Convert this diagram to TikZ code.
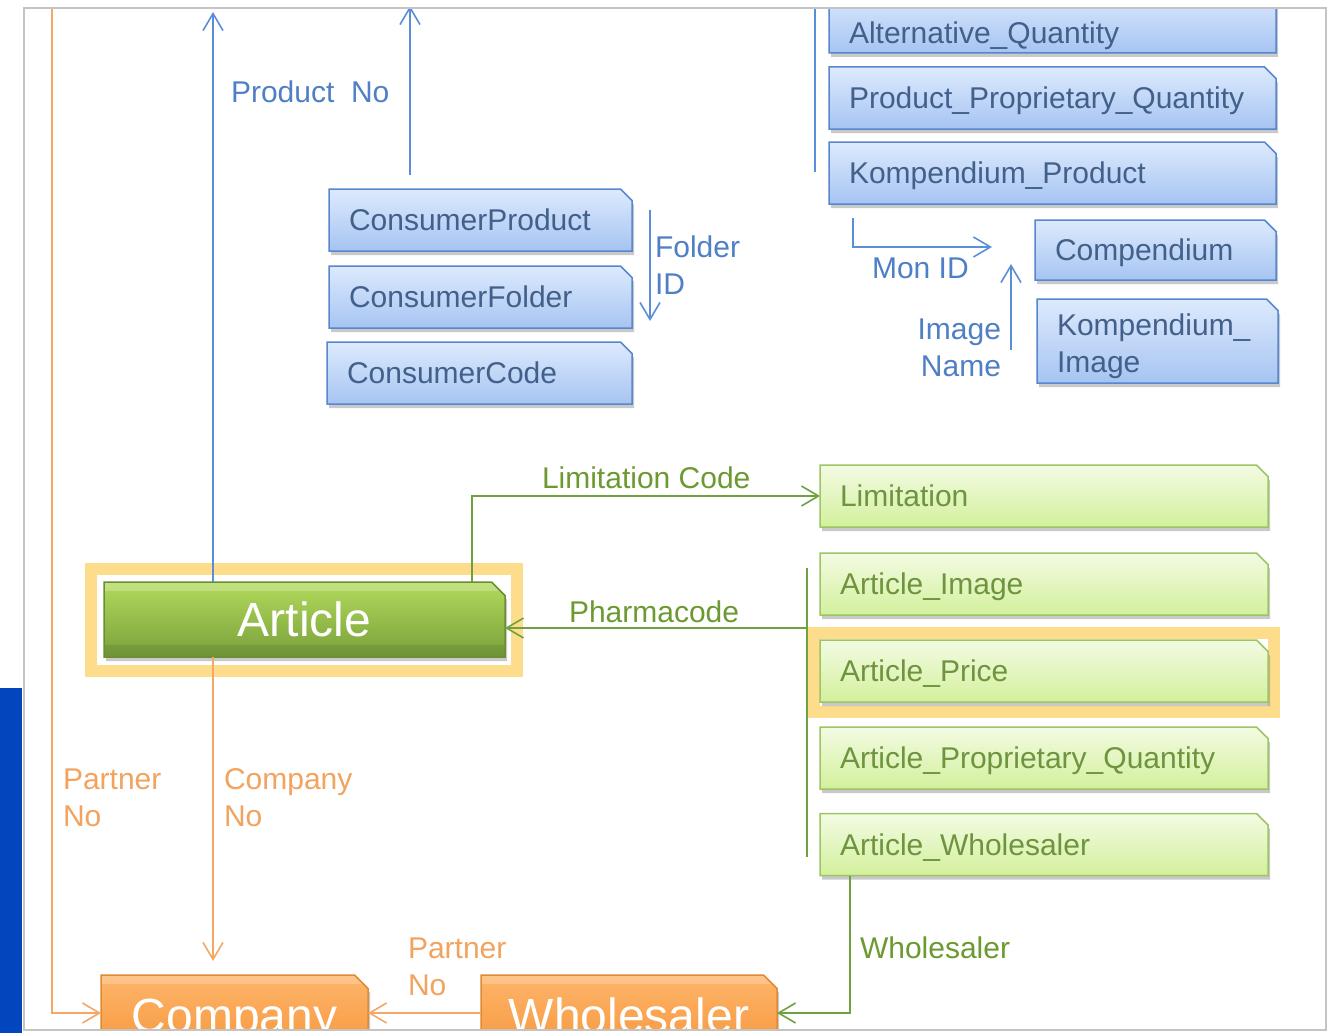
\documentclass[tikz,border=0pt]{standalone}
\usepackage{fontspec}
\setmainfont{Liberation Sans}
\usetikzlibrary{shapes.misc,shadows,arrows.meta,calc}
\definecolor{bTop}{HTML}{DDEAFD}
\definecolor{bBot}{HTML}{A6C4F2}
\definecolor{bLine}{HTML}{5886CF}
\definecolor{bText}{HTML}{42608A}
\definecolor{gTop}{HTML}{F3FBE3}
\definecolor{gBot}{HTML}{D3F09C}
\definecolor{gLine}{HTML}{9CC565}
\definecolor{gText}{HTML}{6F9440}
\definecolor{artTop}{HTML}{B3DA5C}
\definecolor{artMid}{HTML}{8DB845}
\definecolor{artBot}{HTML}{78A03A}
\definecolor{artLine}{HTML}{6B8E33}
\definecolor{oTop}{HTML}{FDB56A}
\definecolor{oBot}{HTML}{F7963C}
\definecolor{oLine}{HTML}{E08A34}
\definecolor{hiYel}{HTML}{FDDC8C}
\definecolor{cBlue}{HTML}{5B8ED8}
\definecolor{cGreen}{HTML}{6FA23E}
\definecolor{cOrange}{HTML}{F4A766}
\definecolor{lBlue}{HTML}{4F7FC4}
\definecolor{lGreen}{HTML}{6C9A30}
\definecolor{lOrange}{HTML}{F2A35E}
\definecolor{frameGray}{HTML}{C4C4C4}
\definecolor{barBlue}{HTML}{0345BC}
\begin{document}
\begin{tikzpicture}[x=1pt,y=-1pt,
  every node/.style={inner sep=0pt,outer sep=0pt},
  boxbase/.style={chamfered rectangle,chamfered rectangle corners=north east,
    chamfered rectangle xsep=8pt,line width=1.5pt,inner xsep=12pt,inner ysep=0pt,
    align=left,text height=21.5pt,text depth=0pt,
    drop shadow={shadow xshift=2pt,shadow yshift=-4pt,opacity=0.35,fill=black!60},
    font=\fontsize{30}{37}\selectfont},
  bluebox/.style={boxbase,draw=bLine,top color=bTop,bottom color=bBot,text=bText},
  greenbox/.style={boxbase,draw=gLine,top color=gTop,bottom color=gBot,text=gText},
  bigbox/.style={chamfered rectangle,chamfered rectangle corners=north east,
    chamfered rectangle xsep=10pt,line width=1.5pt,inner sep=0pt,
    text height=34pt,text depth=0pt,
    drop shadow={shadow xshift=2pt,shadow yshift=-4pt,opacity=0.35,fill=black!60},
    path picture={\fill[white,opacity=0.22] (path picture bounding box.north west) rectangle ([yshift=-9pt]path picture bounding box.north east);
      \fill[black,opacity=0.08] ([yshift=12pt]path picture bounding box.south west) rectangle (path picture bounding box.south east);},
    font=\fontsize{48}{56}\selectfont,text=white},
  artbox/.style={bigbox,draw=artLine,top color=artTop,middle color=artMid,bottom color=artBot},
  orbox/.style={bigbox,draw=oLine,top color=oTop,bottom color=oBot},
  tip/.style={-{Straight Barb[length=17pt,width=20pt]}},
  bline/.style={cBlue,line width=1.6pt},
  gline/.style={cGreen,line width=1.6pt},
  oline/.style={cOrange,line width=1.6pt},
  bconn/.style={bline,tip},
  gconn/.style={gline,tip},
  oconn/.style={oline,tip},
  lab/.style={font=\fontsize{30}{37}\selectfont,align=left,anchor=west},
  blab/.style={lab,text=lBlue},
  glab/.style={lab,text=lGreen},
  olab/.style={lab,text=lOrange},
  hilite/.style={hiYel,line width=12pt}
]
\useasboundingbox (0,0) rectangle (1335,1033);
\fill[white] (0,0) rectangle (1335,1033);
\fill[barBlue] (0,688) rectangle (22,1033);
\begin{scope}
\clip (24,8) rectangle (1326,1030);
% highlights
\draw[hilite] (91,569) rectangle (517,671);
\draw[hilite] (814,633) rectangle (1274,712);
% blue boxes
\node[bluebox,minimum width=303pt,minimum height=62pt,text width=263pt] (cprod) at (480.5,220) {ConsumerProduct};
\node[bluebox,minimum width=303pt,minimum height=62pt,text width=263pt] (cfold) at (480.5,297) {ConsumerFolder};
\node[bluebox,minimum width=305pt,minimum height=62pt,text width=265pt] (ccode) at (479.5,373) {ConsumerCode};
\node[bluebox,minimum width=447pt,minimum height=62pt,text width=407pt,text height=43pt] (altq) at (1052.5,22) {Alternative\_Quantity};
\node[bluebox,minimum width=447pt,minimum height=62pt,text width=407pt] (ppq) at (1052.5,98) {Product\_Proprietary\_Quantity};
\node[bluebox,minimum width=447pt,minimum height=62pt,text width=407pt] (kprod) at (1052.5,173) {Kompendium\_Product};
\node[bluebox,minimum width=241pt,minimum height=60pt,text width=201pt] (comp) at (1155.5,250) {Compendium};
\node[bluebox,minimum width=241pt,minimum height=84pt,text width=201pt,text height=21pt,text depth=32pt] (kimg) at (1157.5,341) {Kompendium\_\\Image};
% green boxes
\node[greenbox,minimum width=448pt,minimum height=62pt,text width=408pt] (limit) at (1044,496) {Limitation};
\node[greenbox,minimum width=448pt,minimum height=62pt,text width=408pt] (aimg) at (1044,584) {Article\_Image};
\node[greenbox,minimum width=448pt,minimum height=62pt,text width=408pt] (aprice) at (1044,671) {Article\_Price};
\node[greenbox,minimum width=448pt,minimum height=62pt,text width=408pt] (apq) at (1044,758) {Article\_Proprietary\_Quantity};
\node[greenbox,minimum width=448pt,minimum height=62pt,text width=408pt] (awh) at (1044,844.5) {Article\_Wholesaler};
% main boxes
\node[artbox,minimum width=401pt,minimum height=75pt] (article) at (304.5,619.5) {Article};
\node[orbox,minimum width=267pt,minimum height=80pt] (company) at (234.5,1015) {Company};
\node[orbox,minimum width=296pt,minimum height=80pt] (wholesaler) at (629,1015) {Wholesaler};
% blue connectors
\coordinate (pnTop) at (213,12);
\draw[bconn] (article.north -| pnTop) -- (pnTop);
\coordinate (cpLow) at (410,175);
\coordinate (cpTop) at (410,6);
\draw[bconn] (cpLow) -- (cpTop);
\coordinate (fiA) at (650,210);
\coordinate (fiB) at (650,321);
\draw[bconn] (fiA) -- (fiB);
\coordinate (vA) at (815,0);
\coordinate (vB) at (815,172);
\draw[bline] (vA) -- (vB);
\coordinate (miA) at (853,218);
\coordinate (miB) at (992,247);
\draw[bconn] (miA) |- (miB);
\coordinate (inA) at (1011,350);
\coordinate (inB) at (1011,264);
\draw[bconn] (inA) -- (inB);
% green connectors
\coordinate (lcK) at (472,495);
\draw[gconn] (article.north -| lcK) |- (limit.west);
\coordinate (phR) at (807,628);
\draw[gconn] (phR) -- (phR -| article.east);
\coordinate (gvA) at (807,568);
\coordinate (gvB) at (807,857);
\draw[gline] (gvA) -- (gvB);
\coordinate (gwX) at (850,1013);
\draw[gconn] (awh.south -| gwX) -- (gwX) -- (gwX -| wholesaler.east);
% orange connectors
\coordinate (cnX) at (213,900);
\draw[oconn,shorten >=14pt] (article.south -| cnX) -- (company.north -| cnX);
\coordinate (plTop) at (52,0);
\coordinate (plRow) at (52,1013);
\draw[oconn] (plTop) -- (plRow) -- (plRow -| company.west);
\coordinate (wcRow) at (0,1013);
\draw[oconn] (wcRow -| wholesaler.west) -- (wcRow -| company.east);
% labels
\node[blab] (lProd) at (231,92) {Product\ \ No};
\node[blab] (lFold) at (655,265) {Folder\\ID};
\node[blab] (lMon) at (872,268) {Mon ID};
\node[blab,anchor=east,align=right] (lImg) at (1001,347.5) {Image\\Name};
\node[glab] (lLim) at (542,478) {Limitation Code};
\node[glab] (lPhar) at (569,612) {Pharmacode};
\node[olab] (lPart1) at (63,797.5) {Partner\\No};
\node[olab] (lComp) at (224,797.5) {Company\\No};
\node[olab] (lPart2) at (408,966.5) {Partner\\No};
\node[glab] (lWh) at (860,948) {Wholesaler};
\end{scope}
\draw[frameGray,line width=1.5pt] (24,8) rectangle (1326,1030);
\end{tikzpicture}
\end{document}
